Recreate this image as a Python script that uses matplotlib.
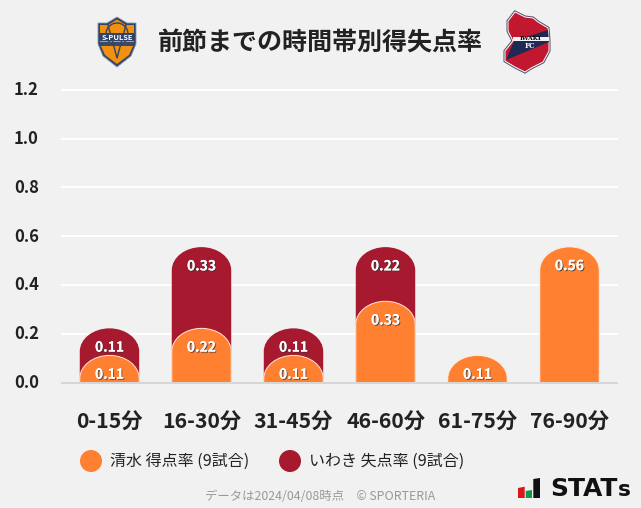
#!/bin/env python
# Rate of goals for / against by time band, with club badges drawn from patches
import matplotlib
matplotlib.use("Agg")
import matplotlib.pyplot as plt
import matplotlib.patheffects as pe
from matplotlib.patches import PathPatch, Polygon, Circle, Rectangle
from matplotlib.path import Path
from matplotlib.transforms import ScaledTranslation

plt.rcParams['font.family'] = ['Noto Sans CJK JP', 'DejaVu Sans']

bands = ['0-15分', '16-30分', '31-45分', '46-60分', '61-75分', '76-90分']
shimizu = [0.111, 0.222, 0.111, 0.333, 0.111, 0.556]
iwaki = [0.111, 0.333, 0.111, 0.222, 0, 0]
yticks = [0.0, 0.2, 0.4, 0.6, 0.8, 1.0, 1.2]

ORANGE = '#ff8030'
RED = '#a6192e'
NAVY = '#2f4468'
BG = '#f1f1f1'
DARK = '#222222'
W, H = 641, 508


def round_bar(ax, x, h, color, edge=None):
    # bar with an elliptical top, same shape as the site's svg
    hw = 0.323
    ry = min(h, 0.095)
    k = 0.5523
    verts = [(x - hw, 0), (x - hw, h - ry),
             (x - hw, h - ry + k * ry), (x - k * hw, h), (x, h),
             (x + k * hw, h), (x + hw, h - ry + k * ry), (x + hw, h - ry),
             (x + hw, 0), (x - hw, 0)]
    codes = [Path.MOVETO, Path.LINETO, Path.CURVE4, Path.CURVE4, Path.CURVE4,
             Path.CURVE4, Path.CURVE4, Path.CURVE4, Path.LINETO, Path.CLOSEPOLY]
    p = PathPatch(Path(verts, codes), facecolor=color, edgecolor=edge or color,
                  lw=0.7 if edge else 0, zorder=3)
    ax.add_patch(p)


def bar_label(ax, x, y, s):
    t = ax.text(x, y, s, ha='center', va='center', color='white', fontsize=10,
                fontweight='bold', zorder=5)
    t.set_path_effects([pe.withSimplePatchShadow(offset=(0.7, -0.7), shadow_rgbFace='#333333', alpha=0.8), pe.Normal()])


fig = plt.figure(figsize=(W / 100, H / 100), dpi=100, facecolor=BG)
ax = fig.add_axes([61 / W, 1 - 382.5 / H, 557 / W, 292.7 / H], facecolor=BG)
ax.set_xlim(-0.527, 5.527)
ax.set_ylim(0, 1.2)

for y in yticks[1:]:
    ax.axhline(y, color='white', lw=1.4, zorder=1, clip_on=False, solid_capstyle='butt')
ax.axhline(0, color='#d6d6d6', lw=1.4, zorder=4, clip_on=False, solid_capstyle='butt')

for i in range(len(bands)):
    if iwaki[i] > 0:
        top = shimizu[i] + iwaki[i]
        round_bar(ax, i, top, RED)
        bar_label(ax, i, top - 0.079, f'{iwaki[i]:.2f}')
    round_bar(ax, i, shimizu[i], ORANGE, edge='#ffe9dc')
    bar_label(ax, i, shimizu[i] - 0.079, f'{shimizu[i]:.2f}')

ax.set_xticks(range(len(bands)))
ax.set_xticklabels(bands, fontsize=15.3, fontweight='bold', color=DARK)
ax.set_yticks(yticks)
ax.set_yticklabels([f'{v:.1f}' for v in yticks], fontsize=12, fontweight='bold', color=DARK)
ax.tick_params(length=0)
ax.tick_params(axis='x', pad=21)
ax.tick_params(axis='y', pad=16)
for t in ax.get_yticklabels():
    t.set_transform(t.get_transform() + ScaledTranslation(0, 1.5 / 100, fig.dpi_scale_trans))
for s in ax.spines.values():
    s.set_visible(False)

# overlay in pixel coordinates for title, legend, badges, footer
ov = fig.add_axes([0, 0, 1, 1], facecolor='none')
ov.set_xlim(0, W)
ov.set_ylim(H, 0)
ov.axis('off')

ov.text(320.5, 43, '前節までの時間帯別得失点率', ha='center', va='center', fontsize=18,
        fontweight='bold', color=DARK)

# S-Pulse badge
ov.add_patch(Polygon([(98, 23), (107, 23), (117, 17), (127, 23), (136, 23), (136, 44), (131, 56), (117, 67), (103, 56), (98, 44)],
                     closed=True, fc=NAVY, ec='#8a94a8', lw=0.6))
ov.add_patch(Polygon([(100, 25), (108, 25), (117, 19.5), (126, 25), (134, 25), (134, 44), (129, 55), (117, 64), (105, 55), (100, 44)],
                     closed=True, fc='#f2900f', ec='none'))
ov.plot([108, 117, 126], [25, 58, 25], color=NAVY, lw=1.0)
ov.add_patch(Circle((117, 34), 11, fc='none', ec=NAVY, lw=1.0))
ov.add_patch(Rectangle((100, 33), 34, 8, fc=NAVY, ec='none'))
ov.add_patch(Rectangle((100, 42), 34, 3.5, fc='#3a4a66', ec='none'))
ov.text(117, 37, 'S-PULSE', ha='center', va='center', fontsize=5.4, fontweight='bold', color='white')

# Iwaki badge
outline = [(515, 12), (525, 17), (533, 18), (538, 22), (548, 28), (549, 40), (549, 51), (543, 62), (531, 68), (525, 72), (515, 67), (505, 61), (505, 51), (513, 41), (508, 31), (508, 21)]
ov.add_patch(Polygon(outline, closed=True, fc='#c2182f', ec='#55556f', lw=2.2, zorder=2))
ov.add_patch(Polygon(outline, closed=True, fc='#c2182f', ec='white', lw=0.7, zorder=2))
ov.add_patch(Polygon([(548, 30), (514, 41), (506, 60), (549, 42)], closed=True, fc='#1c2a55', ec='none', zorder=3))
ov.add_patch(Rectangle((513, 36.5), 36, 4, fc='#f2f2f2', ec='none', zorder=3))
ov.text(531, 38.5, 'IWAKI', ha='center', va='center', fontsize=4.2, fontweight='bold', family='DejaVu Serif', color='black', zorder=4)
ov.text(530, 46, 'FC', ha='center', va='center', fontsize=5, fontweight='bold', family='DejaVu Serif', color='white', zorder=4)

# legend
ov.add_patch(Circle((91, 461), 11, fc=ORANGE, ec='none'))
ov.text(110, 461, '清水 得点率 (9試合)', ha='left', va='center', fontsize=11.5, color=DARK)
ov.add_patch(Circle((290, 461), 11, fc=RED, ec='none'))
ov.text(309, 461, 'いわき 失点率 (9試合)', ha='left', va='center', fontsize=11.5, color=DARK)

# footer
ov.text(320.5, 497, 'データは2024/04/08時点\u3000© SPORTERIA', ha='center', va='center', fontsize=8.9, color='#999999')

# STATs logo
ov.add_patch(Polygon([(518, 488), (524.7, 486.7), (524.7, 498), (518, 498)], closed=True, fc='#d9161c', ec='none'))
ov.add_patch(Polygon([(525.7, 491), (532, 490), (532, 498), (525.7, 498)], closed=True, fc='#0d9a46', ec='none'))
ov.add_patch(Polygon([(533.3, 479), (540, 478), (540, 498), (533.3, 498)], closed=True, fc='#111111', ec='none'))
ov.text(550, 496.5, 'STAT', ha='left', va='baseline', fontsize=18, fontweight='bold', family='DejaVu Sans', color='#111111')
ov.text(617.5, 496.5, 's', ha='left', va='baseline', fontsize=15.5, fontweight='bold', family='DejaVu Sans', color='#111111')

fig.savefig('out.png', dpi=100, facecolor=BG)
